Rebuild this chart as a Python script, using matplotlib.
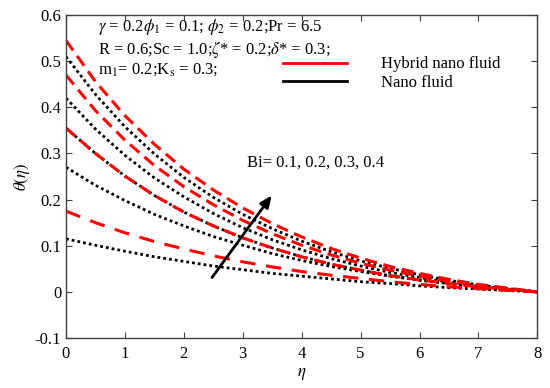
import matplotlib
matplotlib.use("Agg")
import matplotlib.pyplot as plt
from matplotlib.lines import Line2D

plt.rcParams['font.family'] = ['Liberation Serif', 'DejaVu Serif']
plt.rcParams['mathtext.fontset'] = 'stix'

eta = [0, 0.5, 1, 1.5, 2, 2.5, 3, 3.5, 4, 4.5, 5, 5.5, 6, 6.5, 7, 7.5, 8]

# hybrid nano fluid (red dashed)
hyb1 = [0.545, 0.456, 0.382, 0.320, 0.266, 0.221, 0.182, 0.148, 0.119, 0.094, 0.073, 0.055, 0.040, 0.027, 0.016, 0.008, 0.0]
hyb2 = [0.470, 0.393, 0.329, 0.274, 0.228, 0.189, 0.155, 0.126, 0.101, 0.080, 0.062, 0.047, 0.034, 0.023, 0.014, 0.006, 0.0]
hyb3 = [0.355, 0.300, 0.251, 0.209, 0.173, 0.143, 0.117, 0.095, 0.076, 0.060, 0.047, 0.035, 0.026, 0.018, 0.011, 0.005, 0.0]
hyb4 = [0.175, 0.150, 0.128, 0.109, 0.093, 0.078, 0.065, 0.054, 0.044, 0.036, 0.029, 0.022, 0.016, 0.011, 0.007, 0.003, 0.0]

# nano fluid (black dotted)
nano1 = [0.510, 0.428, 0.358, 0.299, 0.248, 0.205, 0.168, 0.137, 0.110, 0.087, 0.067, 0.051, 0.037, 0.025, 0.015, 0.007, 0.0]
nano2 = [0.420, 0.353, 0.296, 0.247, 0.206, 0.170, 0.139, 0.113, 0.091, 0.072, 0.056, 0.042, 0.031, 0.021, 0.013, 0.006, 0.0]
nano3 = [0.270, 0.231, 0.198, 0.168, 0.143, 0.120, 0.101, 0.083, 0.068, 0.055, 0.044, 0.034, 0.025, 0.018, 0.011, 0.005, 0.0]
nano4 = [0.115, 0.101, 0.088, 0.076, 0.066, 0.056, 0.048, 0.040, 0.034, 0.028, 0.022, 0.018, 0.013, 0.009, 0.006, 0.003, 0.0]

xticks = [0, 1, 2, 3, 4, 5, 6, 7, 8]
yticks = [-0.1, 0, 0.1, 0.2, 0.3, 0.4, 0.5, 0.6]
ytick_labels = ['-0.1', '0', '0.1', '0.2', '0.3', '0.4', '0.5', '0.6']

fig = plt.figure(figsize=(5.5, 3.88), dpi=100)
ax = fig.add_axes([0.12, 0.129, 0.857, 0.832])

red = '#ff0000'
dot = (0, (1, 1.1))
dash = (0, (4, 2.2))

# black dotted curve lying under the third red curve
ax.plot(eta, hyb3, color='black', lw=2.0, linestyle=dot)
for y in [nano1, nano2, nano3, nano4]:
    ax.plot(eta, y, color='black', lw=2.0, linestyle=dot)
for y in [hyb1, hyb2, hyb3]:
    ax.plot(eta, y, color=red, lw=2.2, linestyle=dash)
ax.plot(eta, hyb4, color=red, lw=2.2, linestyle=(0, (5, 3.5)))

ax.set_xlim(0, 8)
ax.set_ylim(-0.1, 0.6)
ax.set_xticks(xticks)
ax.set_yticks(yticks)
ax.set_yticklabels(ytick_labels)
ax.tick_params(direction='in', top=True, right=True, labelsize=12, length=4,
               color='#404040', width=0.8)
ax.tick_params(axis='x', pad=6)
for s in ax.spines.values():
    s.set_color('#404040')
    s.set_linewidth(1.0)

ax.set_xlabel(r'$\eta$', fontsize=12, labelpad=3)
ax.set_ylabel(r'$\theta(\eta)$', fontsize=12, labelpad=2)

ax.text(0.068, 0.962, r'$\gamma$ = 0.2$\phi_1$ = 0.1; $\phi_2$ = 0.2;Pr = 6.5',
        transform=ax.transAxes, fontsize=12, va='center')
ax.text(0.068, 0.893, r'R = 0.6;Sc = 1.0;$\zeta$* = 0.2;$\delta$* = 0.3;',
        transform=ax.transAxes, fontsize=12, va='center')
ax.text(0.068, 0.832, r'm$_1$= 0.2;K$_\mathrm{s}$ = 0.3;',
        transform=ax.transAxes, fontsize=12, va='center')

ax.text(3.07, 0.28, 'Bi= 0.1, 0.2, 0.3, 0.4', fontsize=12, va='center')
ax.annotate('', xy=(3.52, 0.214), xytext=(2.45, 0.026),
            arrowprops=dict(arrowstyle='-|>,head_length=0.7,head_width=0.3',
                            color='black', lw=2.0))

handles = [Line2D([], [], color=red, lw=2.0), Line2D([], [], color='black', lw=2.0)]
ax.legend(handles, ['Hybrid nano fluid', 'Nano fluid'], loc='upper left',
          bbox_to_anchor=(0.461, 0.872), frameon=False, fontsize=12,
          handlelength=3.85, handletextpad=2.0, labelspacing=0.15,
          borderpad=0, borderaxespad=0)

fig.savefig('out.png', dpi=100)
